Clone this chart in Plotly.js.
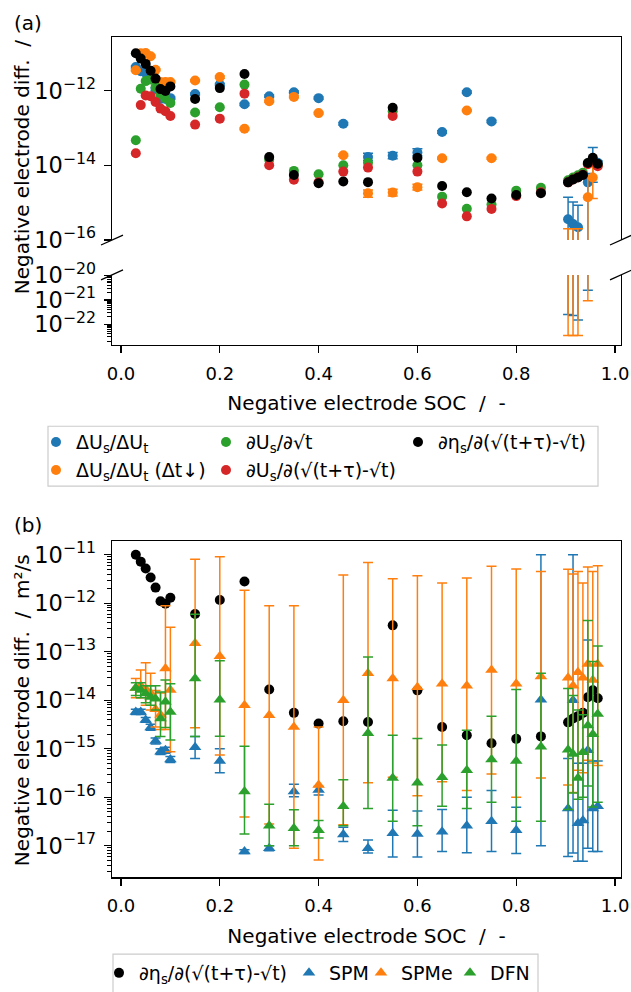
<!DOCTYPE html>
<html><head><meta charset="utf-8">
<script src="https://cdn.plot.ly/plotly-3.0.1.min.js"></script>
<style>body{margin:0;background:#fff}</style></head>
<body><div id="chart" style="width:631px;height:992px"></div>
<script>
// ---------- data ----------
const soc = [0.03,0.04,0.05,0.06,0.07,0.08,0.09,0.10,0.15,0.20,0.25,0.30,0.35,0.40,0.45,0.50,0.55,0.60,0.65,0.70,0.75,0.80,0.85,0.905,0.915,0.925,0.935,0.945,0.955,0.965];

// black: dη_s/d(sqrt(t+tau)-sqrt t)  (both panels)
const etaS = [1.0e-11,7.2e-12,5.2e-12,3.4e-12,2.1e-12,1.1e-12,9.8e-13,1.3e-12,6.0e-13,1.17e-12,2.8e-12,1.66e-14,5.5e-15,3.3e-15,3.7e-15,3.55e-15,3.5e-13,1.6e-14,2.8e-15,1.9e-15,1.3e-15,1.6e-15,1.8e-15,3.5e-15,4.2e-15,4.7e-15,5.5e-15,1.15e-14,1.6e-14,1.1e-14];

// blue: ΔUs/ΔUt
const dUs = [4.3e-12,3.3e-12,2.95e-12,2.2e-12,1.1e-12,6.0e-13,6.0e-13,6.3e-13,8.1e-13,1.45e-12,4.3e-13,7.1e-13,9.1e-13,6.3e-13,1.3e-13,1.66e-14,1.8e-14,2.2e-14,7.8e-14,9.1e-13,1.5e-13,null,null,3.6e-16,2.7e-16,2.2e-16,null,3.5e-15,1.26e-14,1.17e-14];
const dUsHi = [4.6e-12,3.5e-12,3.1e-12,2.35e-12,1.2e-12,6.5e-13,6.5e-13,6.8e-13,8.7e-13,1.55e-12,4.6e-13,7.6e-13,9.8e-13,6.8e-13,1.4e-13,2.1e-14,2.2e-14,2.8e-14,8.4e-14,9.8e-13,1.6e-13,null,null,1.4e-15,1.05e-15,8.5e-16,null,6.0e-15,3.0e-14,1.3e-14];
const dUsLo = [4.0e-12,3.1e-12,2.8e-12,2.05e-12,1.0e-12,5.6e-13,5.6e-13,5.9e-13,7.6e-13,1.35e-12,4.0e-13,6.6e-13,8.5e-13,5.9e-13,1.2e-13,1.35e-14,1.5e-14,1.8e-14,7.2e-14,8.5e-13,1.4e-13,null,null,2.5e-22,2.3e-22,1.5e-22,null,2.5e-21,3.5e-15,1.05e-14];

// orange: ΔUs/ΔUt (Δt↓)
const dUsDt = [3.5e-12,1.0e-11,1.02e-11,8.3e-12,3.6e-12,1.7e-12,1.7e-12,1.7e-12,1.86e-12,2.3e-12,9.5e-14,5.2e-13,6.8e-13,2.5e-13,1.86e-14,1.78e-15,1.86e-15,2.6e-15,1.55e-14,2.95e-13,1.55e-14,null,null,1e-18,1e-18,1e-18,null,1.4e-15,4.7e-15,null];
const dUsDtHi = [3.7e-12,1.06e-11,1.08e-11,8.8e-12,3.8e-12,1.8e-12,1.8e-12,1.8e-12,1.97e-12,2.45e-12,1.0e-13,5.5e-13,7.2e-13,2.65e-13,2.0e-14,2.2e-15,2.3e-15,3.1e-15,1.65e-14,3.1e-13,1.65e-14,null,null,2e-16,2e-16,2e-16,null,5.0e-15,9.5e-15,null];
const dUsDtLo = [3.3e-12,9.4e-12,9.6e-12,7.8e-12,3.4e-12,1.6e-12,1.6e-12,1.6e-12,1.75e-12,2.15e-12,9.0e-14,4.9e-13,6.4e-13,2.35e-13,1.75e-14,1.4e-15,1.5e-15,2.2e-15,1.45e-14,2.8e-13,1.45e-14,null,null,3.4e-23,3.4e-23,3.4e-23,null,9.3e-22,1.3e-15,null];

// green: dUs/d sqrt t
const dUsSqrt = [4.7e-14,1.12e-12,1.8e-12,2.0e-12,1.26e-12,7.9e-13,6.3e-13,4.7e-13,2.6e-13,3.6e-13,1.45e-12,1.4e-14,7.1e-15,5.8e-15,1.0e-14,1.17e-14,2.8e-13,1.0e-14,1.45e-15,6.9e-16,8.9e-16,2.1e-15,2.5e-15,4.0e-15,4.7e-15,5.4e-15,6.3e-15,1.12e-14,1.4e-14,1.0e-14];
// red: dUs/d(sqrt(t+tau)-sqrt t)
const dUsTau = [2.1e-14,4.1e-13,7.4e-13,7.1e-13,5.0e-13,3.3e-13,2.8e-13,2.1e-13,1.23e-13,1.78e-13,8.3e-13,1.0e-14,4.1e-15,3.5e-15,6.8e-15,8.7e-15,2.1e-13,6.8e-15,9.5e-16,4.3e-16,6.8e-16,1.5e-15,1.9e-15,3.5e-15,4.2e-15,4.8e-15,5.6e-15,1.07e-14,1.26e-14,9.5e-15];

// panel (b) model fits
const spm   = [5.75e-15,5.75e-15,3.9e-15,2.75e-15,1.45e-15,8.7e-16,9.3e-16,6.0e-16,1.07e-15,5.6e-16,7.6e-18,8.9e-18,1.32e-16,1.41e-16,1.7e-17,8.9e-18,1.82e-17,1.74e-17,1.95e-17,2.6e-17,3.2e-17,2.1e-17,1.02e-14,5.9e-17,1.0e-14,2.9e-17,3.3e-17,9.3e-16,5.9e-17,6.5e-17];
const spmHi = [6.5e-15,6.5e-15,4.4e-15,3.2e-15,1.66e-15,1.0e-15,1.07e-15,6.9e-16,1.78e-15,1.0e-15,8.3e-18,1.0e-17,1.86e-16,1.66e-16,2.4e-17,1.32e-17,5.4e-17,5.2e-17,5.6e-17,1.0e-16,1.38e-16,6.2e-17,1.0e-11,6.3e-16,1.0e-11,5.0e-16,5.0e-16,1.74e-13,5.6e-16,5.6e-16];
const spmLo = [5.1e-15,5.1e-15,3.5e-15,2.4e-15,1.26e-15,7.6e-16,8.1e-16,5.2e-16,6.3e-16,3.2e-16,6.9e-18,7.9e-18,1.02e-16,1.12e-16,1.23e-17,7.1e-18,5.9e-18,5.9e-18,7.6e-18,7.2e-18,7.6e-18,6.9e-18,1.0e-17,6.0e-18,7.1e-18,4.8e-18,4.8e-18,8.9e-18,7.6e-18,7.6e-18];

const spme   = [1.78e-14,2.0e-14,1.7e-14,1.41e-14,6.5e-15,5.0e-15,4.5e-14,1.62e-14,1.5e-13,8.1e-14,7.9e-15,4.9e-15,2.8e-15,1.78e-16,1.0e-14,3.6e-14,2.8e-14,1.86e-14,2.2e-14,2.0e-14,4.2e-14,2.2e-14,3.1e-14,2.9e-14,2.0e-14,3.8e-14,2.9e-14,5.6e-14,2.6e-14,5.6e-14];
const spmeHi = [2.8e-14,4.2e-14,5.9e-14,3.6e-14,1.58e-14,1.41e-14,8.9e-13,3.2e-13,8.1e-12,9.1e-12,1.86e-12,8.9e-13,8.9e-13,2.8e-15,3.8e-12,6.9e-12,3.2e-12,3.7e-12,2.6e-12,3.3e-12,5.8e-12,5.1e-12,4.5e-12,5.0e-12,4.0e-12,4.5e-12,2.6e-12,5.6e-12,4.5e-12,5.9e-12];
const spmeLo = [1.12e-14,1.12e-14,7.9e-15,6.3e-15,2.8e-15,2.5e-15,2.5e-15,8.7e-16,2.7e-15,7.4e-16,3.9e-17,2.8e-17,8.9e-18,5.1e-18,2.7e-17,2.0e-16,2.6e-16,1.07e-16,2.1e-16,1.38e-16,3.0e-16,1.0e-16,2.5e-16,1.78e-16,1.26e-16,3.6e-16,3.2e-16,5.8e-16,5.1e-16,4.5e-16];

const dfn   = [1.78e-14,1.62e-14,1.38e-14,1.17e-14,1.07e-14,4.2e-15,9.3e-15,5.75e-15,2.8e-14,1.02e-14,1.32e-16,2.6e-17,2.3e-17,2.1e-17,6.5e-17,2.1e-15,2.5e-16,2.0e-16,2.6e-16,3.6e-16,6.0e-16,5.6e-16,1.1e-15,9.5e-16,7.8e-16,2.5e-16,8.5e-16,3.0e-15,2.0e-15,5.2e-15];
const dfnHi = [2.3e-14,2.3e-14,2.0e-14,2.0e-14,2.0e-14,1.48e-14,2.6e-14,2.2e-14,5.9e-13,6.5e-14,1.12e-15,7.2e-17,5.5e-17,3.3e-17,2.3e-16,7.8e-14,1.9e-15,1.62e-15,1.2e-15,2.4e-15,4.7e-15,1.66e-14,3.6e-14,1.74e-14,1.26e-14,6.3e-15,5.0e-15,4.4e-13,6.3e-14,1.32e-13];
const dfnLo = [1.26e-14,1.12e-14,8.9e-15,7.9e-15,6.3e-15,1.78e-15,2.75e-15,1.51e-15,1.78e-15,1.82e-15,1.74e-17,1.0e-17,1.0e-17,1.45e-17,2.6e-17,5.9e-17,3.2e-17,2.6e-17,6.5e-17,5.9e-17,7.9e-17,3.2e-17,3.2e-17,5.6e-17,1.23e-16,9.1e-17,1.0e-16,1.7e-16,6.3e-17,7.9e-17];

const legendA = ['ΔU<sub>s</sub>/ΔU<sub>t</sub>','ΔU<sub>s</sub>/ΔU<sub>t</sub> (Δt↓)','∂U<sub>s</sub>/∂√t','∂U<sub>s</sub>/∂(√(t+τ)-√t)','∂η<sub>s</sub>/∂(√(t+τ)-√t)'];
const legendB = ['∂η<sub>s</sub>/∂(√(t+τ)-√t)','SPM','SPMe','DFN'];

// ---------- helpers ----------
const C = {blue:'#1f77b4', orange:'#ff7f0e', green:'#2ca02c', red:'#d62728', black:'#000000'};
function eb(y, hi, lo, color){
  return {type:'data', symmetric:false, visible:true, color:color, thickness:1.5, width:5,
    array: y.map((v,i)=> (v==null||hi[i]==null)?null:hi[i]-v),
    arrayminus: y.map((v,i)=> (v==null||lo[i]==null)?null:v-lo[i])};
}
function sc(y, color, name, xa, ya, opts){
  return Object.assign({type:'scatter', mode:'markers', x:soc, y:y, name:name, xaxis:xa, yaxis:ya,
    marker:{color:color, size:10, symbol:'circle'}, cliponaxis:true}, opts||{});
}
const tri = c => ({color:c, size:11, symbol:'triangle-up'});

const traces = [];
// panel (a) upper
traces.push(sc(dUs, C.blue, legendA[0], 'x','y', {error_y:eb(dUs,dUsHi,dUsLo,C.blue), legend:'legend'}));
traces.push(sc(dUsDt, C.orange, legendA[1], 'x','y', {error_y:eb(dUsDt,dUsDtHi,dUsDtLo,C.orange), legend:'legend2'}));
traces.push(sc(dUsSqrt, C.green, legendA[2], 'x','y', {legend:'legend3'}));
traces.push(sc(dUsTau, C.red, legendA[3], 'x','y', {legend:'legend4'}));
traces.push(sc(etaS, C.black, legendA[4], 'x','y', {legend:'legend5'}));
// panel (a) lower (broken axis part)
traces.push(sc(dUs, C.blue, legendA[0], 'x2','y2', {error_y:eb(dUs,dUsHi,dUsLo,C.blue), showlegend:false}));
traces.push(sc(dUsDt, C.orange, legendA[1], 'x2','y2', {error_y:eb(dUsDt,dUsDtHi,dUsDtLo,C.orange), showlegend:false}));
// panel (b)
traces.push(sc(etaS, C.black, legendB[0], 'x3','y3', {legend:'legend6'}));
traces.push(sc(spm, C.blue, legendB[1], 'x3','y3', {marker:tri(C.blue), error_y:eb(spm,spmHi,spmLo,C.blue), legend:'legend7'}));
traces.push(sc(spme, C.orange, legendB[2], 'x3','y3', {marker:tri(C.orange), error_y:eb(spme,spmeHi,spmeLo,C.orange), legend:'legend8'}));
traces.push(sc(dfn, C.green, legendB[3], 'x3','y3', {marker:tri(C.green), error_y:eb(dfn,dfnHi,dfnLo,C.green), legend:'legend9'}));

// ---------- layout ----------
const W=631, H=992;
const px = v => v/W, py = v => 1 - v/H;
const XD = [px(112), px(621)];
const XR = [-0.0182, 1.0121];
const FONT = 'DejaVu Sans, sans-serif';
const tickFont = {family:FONT, size:18, color:'#000'};
const baseX = {domain:XD, range:XR, showgrid:false, zeroline:false, showline:true, linecolor:'#000', linewidth:1.3,
  ticks:'outside', ticklen:7, tickwidth:1.3, tickcolor:'#000', dtick:0.2, tick0:0, tickformat:'.1f', tickfont:tickFont, automargin:false, ticklabelstandoff:5};
const baseY = {type:'log', showgrid:false, zeroline:false, showline:true, mirror:true, linecolor:'#000', linewidth:1.3,
  ticks:'outside', ticklen:7, tickwidth:1.3, tickcolor:'#000', exponentformat:'power', tickfont:tickFont, automargin:false, ticklabelstandoff:4};
const minorT = {ticks:'outside', ticklen:4, tickwidth:1, tickcolor:'#000', showgrid:false};
const xTitle = {text:'Negative electrode SOC\u00a0\u00a0/\u00a0\u00a0-', font:{family:FONT,size:20}, standoff:13};

const brk = [];
[[112,241],[621,241],[112,276],[621,276]].forEach(p=>{
  brk.push({type:'line', xref:'paper', yref:'paper', x0:px(p[0]-11), y0:py(p[1]+5), x1:px(p[0]+11), y1:py(p[1]-5), line:{color:'#000', width:1.3}});
});

const legBase = {bgcolor:'rgba(0,0,0,0)', borderwidth:0, font:{family:FONT, size:19, color:'#000'}, xanchor:'left', yanchor:'middle', itemclick:false};
const L = (x, y) => Object.assign({}, legBase, {x:px(x), y:py(y)});

const layout = {
  width:W, height:H, margin:{l:0,r:0,t:0,b:0}, paper_bgcolor:'#fff', plot_bgcolor:'#fff',
  font:{family:FONT, size:18, color:'#000'},
  xaxis: Object.assign({}, baseX, {anchor:'y', side:'top', ticks:'', showticklabels:false}),
  yaxis: Object.assign({}, baseY, {domain:[py(241), py(37)], range:[-16, -10.56], dtick:2, anchor:'x'}),
  xaxis2: Object.assign({}, baseX, {anchor:'y2', title:xTitle}),
  yaxis2: Object.assign({}, baseY, {domain:[py(346), py(276)], range:[-22.84, -19.97], dtick:1, anchor:'x2', minor:minorT}),
  xaxis3: Object.assign({}, baseX, {anchor:'y3', mirror:true, title:xTitle}),
  yaxis3: Object.assign({}, baseY, {domain:[py(881), py(543)], range:[-17.653, -10.713], dtick:1, anchor:'x3', minor:minorT}),
  showlegend:true,
  legend: L(36,444), legend2: L(36,472), legend3: L(206,444), legend4: L(206,472), legend5: L(398,444),
  legend6: L(99,977), legend7: L(289,977), legend8: L(361,977), legend9: L(450,977),
  shapes: brk.concat([
    {type:'rect', xref:'paper', yref:'paper', x0:px(48), x1:px(598), y0:py(488), y1:py(428), line:{color:'#cccccc', width:1.2}},
    {type:'rect', xref:'paper', yref:'paper', x0:px(113), x1:px(538), y0:py(1002), y1:py(958), line:{color:'#cccccc', width:1.2}}
  ]),
  annotations: [
    {text:'(a)', xref:'paper', yref:'paper', x:px(12), y:py(23), xanchor:'left', yanchor:'middle', showarrow:false, font:{family:FONT,size:20}},
    {text:'(b)', xref:'paper', yref:'paper', x:px(12), y:py(527), xanchor:'left', yanchor:'middle', showarrow:false, font:{family:FONT,size:20}},
    {text:'Negative electrode diff.\u00a0\u00a0/', xref:'paper', yref:'paper', x:px(22), y:py(168), textangle:-90, xanchor:'center', yanchor:'middle', showarrow:false, font:{family:FONT,size:20}},
    {text:'Negative electrode diff.\u00a0\u00a0/\u00a0\u00a0m²/s', xref:'paper', yref:'paper', x:px(22), y:py(713), textangle:-90, xanchor:'center', yanchor:'middle', showarrow:false, font:{family:FONT,size:20}}
  ]
};

Plotly.newPlot('chart', traces, layout, {staticPlot:true, displayModeBar:false});
</script>
</body></html>
